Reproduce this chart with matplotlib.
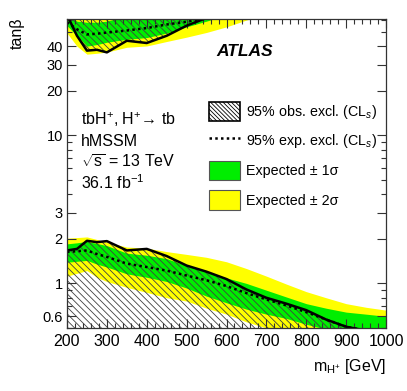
import numpy as np
import matplotlib
matplotlib.use('Agg')
import matplotlib.pyplot as plt
from matplotlib.patches import Patch
from matplotlib.lines import Line2D
from matplotlib.ticker import FixedLocator, LogLocator, MultipleLocator, FuncFormatter, NullFormatter

plt.rcParams['font.family'] = ['Liberation Sans', 'DejaVu Sans']
plt.rcParams['mathtext.fontset'] = 'custom'
plt.rcParams['mathtext.rm'] = 'Liberation Sans'
plt.rcParams['mathtext.it'] = 'Liberation Sans:italic'
plt.rcParams['mathtext.bf'] = 'Liberation Sans:bold'
plt.rcParams['hatch.linewidth'] = 0.6

# low tan(beta) exclusion (bottom of the plot)
mass = [200, 225, 250, 275, 300, 350, 400, 450, 500, 550, 600, 650, 700, 750, 800, 850, 900, 950, 1000]
obs_lo = [1.67, 1.71, 1.94, 1.90, 1.93, 1.67, 1.71, 1.53, 1.32, 1.20, 1.07, 0.91, 0.80, 0.73, 0.66, 0.57, 0.51, 0.48, 0.45]
exp_lo = [1.63, 1.65, 1.67, 1.58, 1.51, 1.36, 1.29, 1.22, 1.13, 1.05, 0.96, 0.86, 0.78, 0.71, 0.64, 0.57, 0.51, 0.48, 0.45]
p1s_lo = [1.85, 1.88, 1.92, 1.86, 1.80, 1.60, 1.55, 1.47, 1.32, 1.20, 1.09, 1.00, 0.90, 0.81, 0.73, 0.68, 0.64, 0.62, 0.60]
m1s_lo = [1.39, 1.41, 1.43, 1.35, 1.29, 1.16, 1.10, 1.03, 0.93, 0.82, 0.74, 0.67, 0.62, 0.58, 0.53, 0.49, 0.45, 0.42, 0.40]
p2s_lo = [2.02, 2.04, 2.06, 1.98, 1.90, 1.76, 1.73, 1.64, 1.57, 1.50, 1.40, 1.26, 1.12, 0.99, 0.88, 0.80, 0.73, 0.69, 0.66]
m2s_lo = [1.12, 1.17, 1.22, 1.10, 1.03, 0.94, 0.87, 0.80, 0.76, 0.68, 0.62, 0.55, 0.50, 0.46, 0.43, 0.40, 0.40, 0.40, 0.40]

# high tan(beta) exclusion (top of the plot)
mass_hi = [200, 225, 250, 275, 300, 350, 400, 450, 500, 550, 600, 650, 700]
obs_hi = [65, 47, 37.3, 37.8, 36.3, 43.5, 42.0, 47.0, 55.0, 62.0, 70, 80, 90]
exp_hi = [58, 52, 48, 48.5, 49.4, 51, 53, 56, 58.5, 62, 70, 80, 90]
m1s_hi = [55, 47, 40, 41, 42.5, 44.5, 45.7, 49, 54, 59, 65, 75, 85]
p1s_hi = [65, 59, 58, 58, 59, 64, 70, 80, 90, 100, 100, 100, 100]
m2s_hi = [49, 40, 35.3, 35.8, 36.5, 39.3, 40.1, 43, 46, 49.5, 54, 60, 66]

ytick_vals = [0.6, 1, 2, 3, 10, 20, 30, 40]

green = '#00ee00'
yellow = '#ffff00'
hatch = '\\' * 5

fig = plt.figure(figsize=(4.07, 3.91), dpi=100)
ax = fig.add_axes([67/407, 1-328/391, 319/407, 309/391])

# bands
ax.fill_between(mass, m2s_lo, p2s_lo, color=yellow, lw=0)
ax.fill_between(mass, m1s_lo, p1s_lo, color=green, lw=0)
ax.fill_between(mass_hi, m2s_hi, 200, color=yellow, lw=0)
ax.fill_between(mass_hi, m1s_hi, p1s_hi, color=green, lw=0)

# observed exclusion (hatched)
ax.fill_between(mass, 0.1, obs_lo, facecolor='none', edgecolor='#404040', hatch=hatch, lw=0)
ax.fill_between(mass_hi, obs_hi, 200, facecolor='none', edgecolor='#404040', hatch=hatch, lw=0)

ax.plot(mass, obs_lo, color='black', lw=1.8)
ax.plot(mass_hi, obs_hi, color='black', lw=1.8)
ax.plot(mass, exp_lo, color='black', lw=1.8, ls=(0, (1, 1.3)))
ax.plot(mass_hi, exp_hi, color='black', lw=1.8, ls=(0, (1, 1.3)))

ax.set_xlim(200, 1000)
ax.set_yscale('log')
ax.set_ylim(0.5, 61)

ax.xaxis.set_major_locator(MultipleLocator(100))
ax.xaxis.set_minor_locator(MultipleLocator(20))
ax.yaxis.set_major_locator(FixedLocator(ytick_vals))
ax.yaxis.set_major_formatter(FuncFormatter(lambda v, p: f'{v:g}'))
ax.yaxis.set_minor_locator(LogLocator(base=10, subs=np.arange(1, 10)))
ax.yaxis.set_minor_formatter(NullFormatter())

ax.tick_params(which='both', direction='in', top=True, right=True, width=0.8, color='#333333')
ax.tick_params(which='major', length=6.5)
ax.tick_params(which='minor', length=3.3)
ax.tick_params(axis='x', labelsize=11.5, pad=4)
ax.tick_params(axis='y', labelsize=10.5, pad=3)
for s in ax.spines.values():
    s.set_linewidth(0.9)
    s.set_color('#333333')

ax.set_xlabel(r'm$_{\mathregular{H^{+}}}$ [GeV]', fontsize=11.5, loc='right')
ax.xaxis.set_label_coords(1.0, -0.095)
ax.set_ylabel('tanβ', fontsize=11.5, loc='top')
ax.yaxis.set_label_coords(-0.132, 1.005)

ax.text(0.467, 0.896, 'ATLAS', transform=ax.transAxes, fontsize=12.5,
        fontweight='bold', fontstyle='italic', va='center')

info = [r'tbH$^{+}$, H$^{+}$→ tb', 'hMSSM',
        r'$\sqrt{\mathregular{s}}$ = 13 TeV', r'36.1 fb$^{-1}$']
for i, t in enumerate(info):
    ax.text(0.045, 0.673 - i*0.068, t, transform=ax.transAxes, fontsize=11.5, va='center')

handles = [Patch(facecolor='white', edgecolor='black', hatch='\\' * 8, lw=1.2),
           Line2D([], [], color='black', lw=1.8, ls=(0, (1, 1.3))),
           Patch(facecolor=green, edgecolor='#555555', lw=0.8),
           Patch(facecolor=yellow, edgecolor='#555555', lw=0.8)]
labels = [r'95% obs. excl. (CL$_{s}$)', r'95% exp. excl. (CL$_{s}$)',
          'Expected ± 1σ', 'Expected ± 2σ']
ax.legend(handles, labels, loc='upper left', bbox_to_anchor=(0.445, 0.733),
          frameon=False, fontsize=10.3, borderpad=0, borderaxespad=0,
          handlelength=2.2, handleheight=1.7, labelspacing=0.72, handletextpad=0.4)

fig.savefig('out.png', dpi=100)
